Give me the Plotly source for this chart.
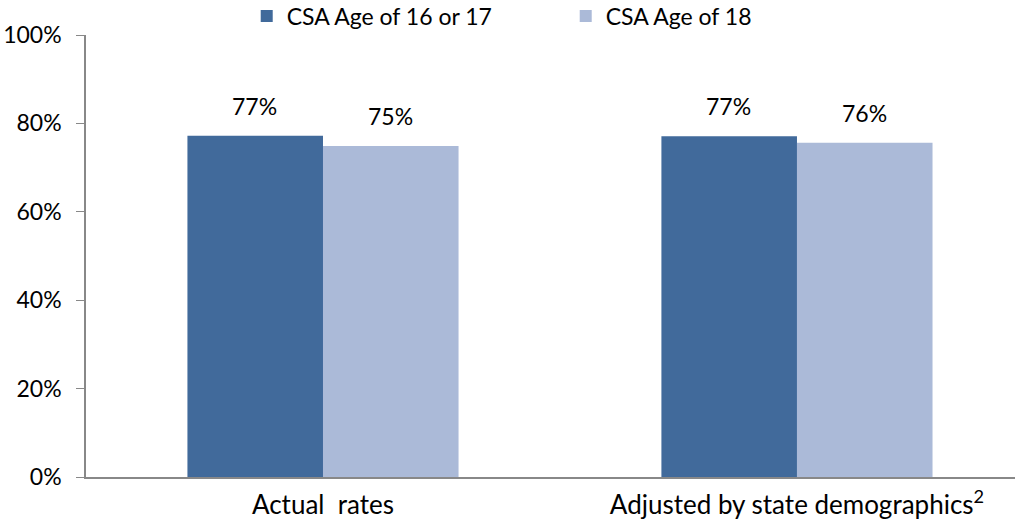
import plotly.graph_objects as go

categories = ["Actual  rates", "Adjusted by state demographics<sup>2</sup>"]
series_names = ["CSA Age of 16 or 17", "CSA Age of 18"]
age_16_17 = [77.2, 77.1]
age_18 = [74.9, 75.6]
labels_16_17 = ["77%", "77%"]
labels_18 = ["75%", "76%"]
colors = ["#416a9b", "#abbad8"]
y_ticks = [0, 20, 40, 60, 80, 100]
y_tick_text = ["0%", "20%", "40%", "60%", "80%", "100%"]

FONT = "Lato"
FS = 23
BAR_HALF_PX = 68  # horizontal offset of each bar centre from group centre

fig = go.Figure()
for name, vals, col in [
    (series_names[0], age_16_17, colors[0]),
    (series_names[1], age_18, colors[1]),
]:
    fig.add_trace(go.Bar(
        x=categories, y=vals, name=name, marker_color=col,
        marker_line_width=0,
    ))

for vals, labs, shift in [(age_16_17, labels_16_17, -BAR_HALF_PX), (age_18, labels_18, BAR_HALF_PX)]:
    for cat, v, lab in zip(categories, vals, labs):
        fig.add_annotation(
            x=cat, y=v, text=lab, showarrow=False, xref="x", yref="y",
            xanchor="center", yanchor="bottom", xshift=shift, yshift=14,
            font=dict(family=FONT, size=FS, color="#000000"),
        )

fig.update_layout(
    width=1015, height=521,
    margin=dict(l=86, r=0, t=35, b=44, autoexpand=False),
    paper_bgcolor="white", plot_bgcolor="white",
    barmode="group", bargap=0.428, bargroupgap=0,
    font=dict(family=FONT, size=FS, color="#000000"),
    showlegend=True,
    legend=dict(
        orientation="h", x=0.173, y=1.043, xanchor="left", yanchor="middle",
        font=dict(family=FONT, size=FS), entrywidth=274, entrywidthmode="pixels",
        itemwidth=30, bgcolor="rgba(0,0,0,0)", traceorder="normal",
    ),
    xaxis=dict(
        type="category", range=[-0.5, 1.46], showline=True, linecolor="#888888",
        linewidth=1.5, ticks="", showgrid=False, tickfont=dict(family=FONT, size=26),
        ticklabelstandoff=4,
    ),
    yaxis=dict(
        range=[0, 100], tickvals=y_ticks, ticktext=y_tick_text, showline=True,
        linecolor="#888888", linewidth=1.5, ticks="outside", ticklen=8,
        tickcolor="#888888", showgrid=False, zeroline=False,
        tickfont=dict(family=FONT, size=FS), ticklabelstandoff=10,
    ),
)

fig.write_html("out.html")
